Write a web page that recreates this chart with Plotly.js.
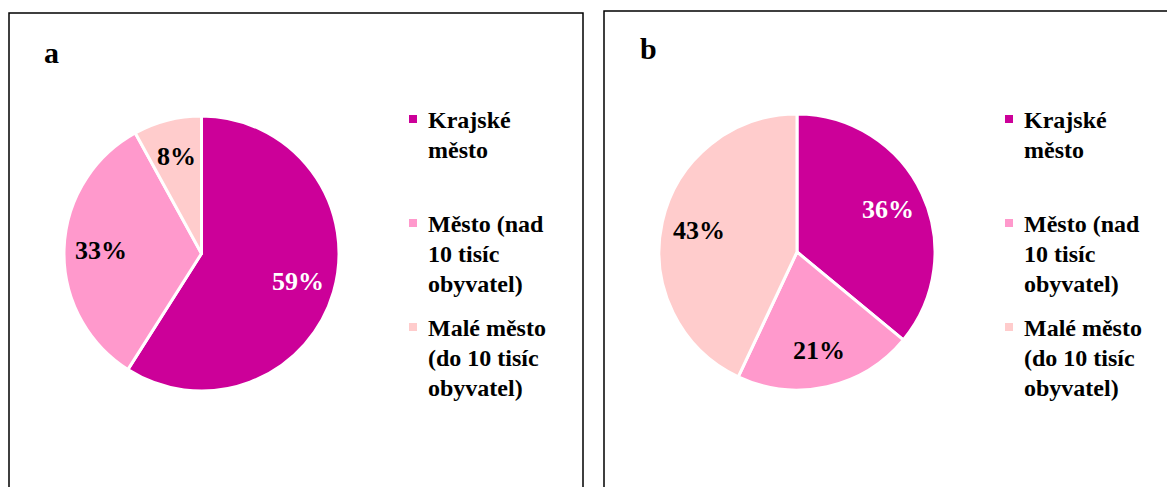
<!DOCTYPE html>
<html>
<head>
<meta charset="utf-8">
<script src="https://cdn.plot.ly/plotly-3.0.1.min.js"></script>
<style>html,body{margin:0;padding:0;background:#fff;}#chart{width:1167px;height:487px;}</style>
</head>
<body>
<div id="chart"></div>
<script>
// ---- data ----
const panelLetters = ['a', 'b'];
const categories = ['Krajské město', 'Město (nad 10 tisíc obyvatel)', 'Malé město (do 10 tisíc obyvatel)'];
const legendLines = [
  ['Krajské', 'město'],
  ['Město (nad', '10 tisíc', 'obyvatel)'],
  ['Malé město', '(do 10 tisíc', 'obyvatel)']
];
const valuesA = [59, 33, 8];
const valuesB = [36, 21, 43];
const sliceColors = ['#CC0099', '#FF99CC', '#FFCCCC'];
const labelColors = ['#FFFFFF', '#000000', '#000000'];

// ---- layout helpers (pixel -> paper) ----
const W = 1167, H = 487;
const px = x => x / W;
const py = y => 1 - y / H;
const FONT = 'Liberation Serif';

const panels = [
  {values: valuesA, box: [9, 13, 583, 600], pie: [64, 116, 339, 391], title: [42, 52], legX: 409, textX: 426},
  {values: valuesB, box: [604, 11, 1200, 600], pie: [659, 114, 935, 390], title: [638, 49], legX: 1005, textX: 1022}
];
const firstBaselines = [127, 231, 335];
const lineStep = 30;
const labelRadius = 0.73; // fraction of pie radius where data labels sit

const traces = [];
const shapes = [];
const annotations = [];

panels.forEach((p, i) => {
  traces.push({
    type: 'pie',
    labels: categories,
    values: p.values,
    sort: false,
    direction: 'clockwise',
    rotation: 0,
    marker: {colors: sliceColors, line: {color: '#FFFFFF', width: 3}},
    textinfo: 'none',
    textposition: 'none',
    hoverinfo: 'none',
    showlegend: false,
    domain: {x: [px(p.pie[0]), px(p.pie[2])], y: [py(p.pie[3]), py(p.pie[1])]}
  });
  // data labels (percent of total), placed at the slice mid-angle
  const total = p.values.reduce((s, v) => s + v, 0);
  const cx = (p.pie[0] + p.pie[2]) / 2, cy = (p.pie[1] + p.pie[3]) / 2;
  const R = Math.min(p.pie[2] - p.pie[0], p.pie[3] - p.pie[1]) / 2;
  let cum = 0;
  p.values.forEach((v, k) => {
    const frac = v / total;
    const mid = (cum + frac / 2) * 2 * Math.PI;
    cum += frac;
    const lx = cx + labelRadius * R * Math.sin(mid);
    const ly = cy - labelRadius * R * Math.cos(mid);
    annotations.push({
      xref: 'paper', yref: 'paper', x: px(lx), y: py(ly),
      xanchor: 'center', yanchor: 'middle', showarrow: false,
      text: Math.round(frac * 100) + '%',
      font: {family: FONT, size: 26, color: labelColors[k], weight: 'bold'}
    });
  });
  shapes.push({
    type: 'rect', xref: 'paper', yref: 'paper',
    x0: px(p.box[0]), x1: px(p.box[2]), y0: py(p.box[3]), y1: py(p.box[1]),
    line: {color: '#000000', width: 1.5}, fillcolor: 'rgba(0,0,0,0)'
  });
  annotations.push({
    xref: 'paper', yref: 'paper', x: px(p.title[0]), y: py(p.title[1]),
    xanchor: 'left', yanchor: 'middle', showarrow: false,
    text: panelLetters[i], font: {family: FONT, size: 30, color: '#000', weight: 'bold'}
  });
  legendLines.forEach((lines, k) => {
    const base = firstBaselines[k];
    shapes.push({
      type: 'rect', xref: 'paper', yref: 'paper',
      x0: px(p.legX), x1: px(p.legX + 8), y0: py(base - 4), y1: py(base - 12),
      line: {width: 0}, fillcolor: sliceColors[k]
    });
    lines.forEach((ln, j) => {
      annotations.push({
        xref: 'paper', yref: 'paper', x: px(p.textX), y: py(base + j * lineStep - 7),
        xanchor: 'left', yanchor: 'middle', showarrow: false,
        text: ln, font: {family: FONT, size: 24, color: '#000', weight: 'bold'}
      });
    });
  });
});

const layout = {
  width: W, height: H,
  margin: {l: 0, r: 0, t: 0, b: 0},
  paper_bgcolor: '#FFFFFF',
  showlegend: false,
  shapes: shapes,
  annotations: annotations
};

Plotly.newPlot('chart', traces, layout, {staticPlot: true, displayModeBar: false});
</script>
</body>
</html>
